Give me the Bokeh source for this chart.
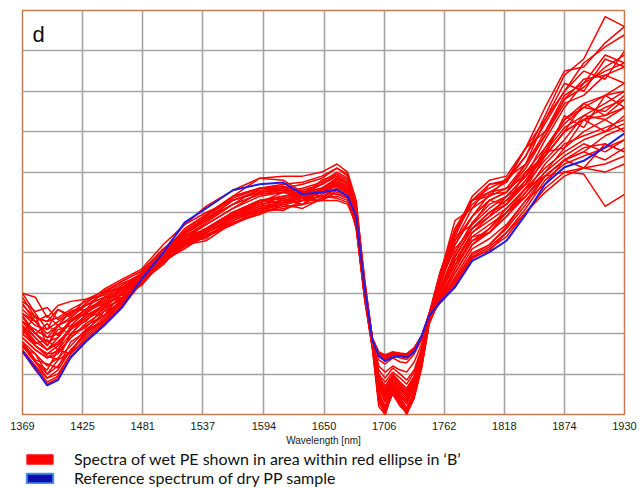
from bokeh.plotting import figure
from bokeh.layouts import column
from bokeh.models import FixedTicker, Grid, Legend, LegendItem, Label
from bokeh.embed import file_html
from bokeh.resources import INLINE

# ---------------- data ----------------
wavelength = [1369, 1381, 1392, 1402, 1414, 1428, 1445, 1462, 1480, 1500, 1520, 1540, 1565, 1590,
              1612, 1630, 1648, 1662, 1672, 1680, 1688, 1695, 1701, 1707, 1714, 1721, 1727, 1734,
              1741, 1748, 1758, 1772, 1788, 1804, 1820, 1838, 1856, 1874, 1892, 1912, 1930]

tick_values = [1369, 1425, 1481, 1537, 1594, 1650, 1706, 1762, 1818, 1874, 1930]
tick_labels = ["1369", "1425", "1481", "1537", "1594", "1650", "1706", "1762", "1818", "1874", "1930"]

reference_dry_pp = [1.56, 1.14, 0.72, 0.85, 1.42, 1.80, 2.20, 2.66, 3.35, 4.00, 4.75, 5.10, 5.55, 5.70,
                    5.74, 5.45, 5.50, 5.57, 5.40, 4.90, 3.10, 1.85, 1.45, 1.32, 1.42, 1.44, 1.41, 1.55,
                    1.95, 2.45, 2.78, 3.15, 3.80, 4.02, 4.30, 4.95, 5.70, 6.12, 6.28, 6.62, 6.96]

wet_01 = [2.9, 2.4, 2.3, 2.6, 2.45, 2.85, 2.95, 3.25, 3.45, 3.9, 4.3, 4.5, 4.8, 5.1, 5.2, 5.3, 5.5, 5.8, 5.6, 4.8, 3.0, 1.8, 0.5, 0.0, 0.6, 0.35, 0.0, 0.5, 1.3, 2.35, 3.4, 4.4, 5.3, 5.6, 5.8, 6.4, 7.4, 8.4, 8.8, 9.85, 9.6]
wet_02 = [2.6, 2.3, 2.0, 2.2, 2.4, 2.7, 2.9, 3.1, 3.4, 3.85, 4.2, 4.45, 4.75, 5.0, 5.15, 5.2, 5.45, 5.7, 5.55, 4.75, 3.0, 1.75, 0.7, 0.35, 0.75, 0.5, 0.3, 0.7, 1.4, 2.4, 3.5, 4.5, 5.3, 5.4, 5.85, 6.2, 7.3, 8.0, 8.7, 9.1, 9.4]
wet_03 = [2.2, 1.9, 1.6, 1.9, 2.3, 2.6, 2.85, 3.15, 3.45, 3.95, 4.35, 4.7, 5.1, 5.4, 5.5, 5.6, 5.75, 6.0, 5.85, 5.1, 3.1, 1.75, 0.3, 0.05, 0.55, 0.25, 0.05, 0.45, 1.25, 2.3, 3.2, 4.2, 4.9, 5.3, 5.5, 6.1, 6.9, 7.8, 8.1, 8.6, 8.9]
wet_04 = [2.0, 1.7, 1.5, 1.7, 2.1, 2.4, 2.7, 3.0, 3.4, 3.9, 4.3, 4.6, 5.0, 5.3, 5.4, 5.5, 5.7, 5.95, 5.8, 5.0, 3.1, 1.8, 0.95, 0.7, 1.0, 0.8, 0.65, 0.95, 1.55, 2.4, 3.1, 4.0, 4.75, 5.2, 5.4, 5.9, 6.8, 7.6, 8.2, 8.5, 8.7]
wet_05 = [1.8, 1.35, 1.25, 1.15, 1.8, 2.05, 2.55, 2.75, 3.3, 3.9, 4.5, 4.9, 5.35, 5.6, 5.65, 5.5, 5.5, 5.65, 5.45, 4.95, 3.1, 1.85, 1.5, 1.38, 1.5, 1.45, 1.42, 1.6, 1.9, 2.45, 2.9, 3.5, 4.2, 4.6, 5.0, 5.6, 6.4, 7.0, 7.3, 7.6, 7.8]
wet_06 = [1.6, 1.2, 0.8, 0.95, 1.5, 1.85, 2.25, 2.7, 3.35, 4.0, 4.6, 4.95, 5.4, 5.6, 5.6, 5.45, 5.4, 5.35, 5.25, 4.8, 3.1, 1.85, 1.48, 1.36, 1.47, 1.47, 1.44, 1.58, 1.95, 2.45, 2.8, 3.2, 3.9, 4.15, 4.5, 5.1, 5.8, 6.2, 6.4, 6.6, 6.8]
wet_07 = [3.0, 2.9, 2.4, 2.7, 2.8, 2.85, 3.05, 3.3, 3.55, 4.1, 4.5, 4.85, 5.2, 5.6, 5.7, 5.75, 5.9, 6.1, 5.95, 5.2, 3.3, 1.9, 1.1, 0.9, 1.15, 1.0, 0.85, 1.1, 1.65, 2.5, 3.3, 4.1, 4.6, 5.0, 5.3, 5.7, 6.6, 7.2, 7.6, 7.5, 7.9]
wet_08 = [2.3, 2.0, 1.8, 1.9, 2.3, 2.5, 2.8, 3.1, 3.4, 3.8, 4.2, 4.4, 4.7, 5.0, 5.1, 5.2, 5.3, 5.5, 5.35, 4.6, 2.9, 1.7, 0.8, 0.5, 0.85, 0.65, 0.45, 0.8, 1.4, 2.3, 3.0, 3.7, 4.3, 4.6, 5.1, 5.6, 5.9, 6.0, 5.95, 5.15, 5.45]
wet_09 = [2.1, 1.7, 1.45, 1.35, 2.0, 2.15, 2.65, 2.85, 3.3, 3.75, 4.15, 4.4, 4.8, 5.05, 5.2, 5.3, 5.4, 5.6, 5.4, 4.6, 2.8, 1.65, 0.2, 0.0, 0.6, 0.3, 0.0, 0.4, 1.15, 2.25, 2.9, 3.6, 4.4, 4.7, 5.0, 5.5, 6.2, 6.7, 6.9, 7.1, 7.3]
wet_10 = [2.5, 2.2, 2.1, 2.3, 2.5, 2.7, 2.9, 3.2, 3.5, 4.0, 4.4, 4.7, 5.1, 5.5, 5.6, 5.7, 5.85, 6.1, 5.9, 5.15, 3.3, 1.9, 1.35, 1.25, 1.4, 1.3, 1.28, 1.5, 1.85, 2.5, 3.5, 4.6, 5.3, 5.7, 5.75, 6.6, 7.0, 7.9, 8.2, 8.9, 8.7]
wet_11 = [1.9, 1.6, 1.4, 1.6, 2.0, 2.35, 2.6, 2.9, 3.3, 3.8, 4.25, 4.55, 4.95, 5.2, 5.3, 5.4, 5.55, 5.75, 5.6, 4.85, 3.0, 1.75, 0.85, 0.55, 0.9, 0.7, 0.5, 0.85, 1.45, 2.35, 3.0, 3.9, 4.6, 5.0, 5.2, 5.8, 6.5, 7.3, 7.6, 7.9, 8.2]
wet_12 = [2.0, 1.7, 1.5, 1.55, 1.9, 2.2, 2.45, 2.8, 3.25, 3.85, 4.4, 4.75, 5.2, 5.45, 5.5, 5.35, 5.3, 5.3, 5.2, 4.7, 3.0, 1.8, 1.2, 1.05, 1.2, 1.1, 1.05, 1.3, 1.75, 2.4, 2.85, 3.4, 4.1, 4.35, 4.7, 5.3, 5.9, 6.3, 6.5, 6.3, 6.6]
wet_13 = [2.7, 2.4, 2.3, 2.4, 2.6, 2.8, 3.0, 3.3, 3.55, 4.05, 4.5, 4.9, 5.4, 5.85, 5.9, 5.9, 6.0, 6.2, 6.0, 5.3, 3.2, 1.8, 0.35, 0.1, 0.5, 0.2, 0.05, 0.5, 1.2, 2.3, 3.4, 4.5, 5.4, 5.8, 5.9, 6.6, 7.6, 8.5, 8.6, 9.2, 9.6]
wet_14 = [1.7, 1.3, 0.9, 1.1, 1.6, 2.0, 2.4, 2.8, 3.35, 4.05, 4.7, 5.15, 5.55, 5.85, 5.8, 5.5, 5.6, 5.7, 5.55, 5.05, 3.2, 1.9, 1.52, 1.45, 1.55, 1.5, 1.5, 1.65, 1.95, 2.5, 2.8, 3.3, 3.95, 4.2, 4.6, 5.2, 5.9, 6.3, 6.5, 6.9, 7.1]
wet_15 = [2.4, 2.0, 1.7, 2.1, 2.2, 2.55, 2.75, 3.05, 3.4, 3.8, 4.3, 4.5, 4.85, 5.15, 5.25, 5.35, 5.5, 5.7, 5.5, 4.7, 2.9, 1.7, 0.6, 0.3, 0.7, 0.45, 0.25, 0.65, 1.35, 2.3, 3.1, 4.0, 4.7, 5.1, 5.4, 5.9, 6.4, 7.0, 7.7, 7.4, 7.8]
wet_16 = [2.2, 1.8, 1.6, 1.75, 2.15, 2.45, 2.7, 3.0, 3.35, 3.9, 4.3, 4.6, 5.0, 5.3, 5.35, 5.45, 5.6, 5.85, 5.7, 4.9, 3.0, 1.75, 0.45, 0.2, 0.65, 0.4, 0.15, 0.55, 1.3, 2.35, 3.2, 4.3, 5.1, 5.4, 5.6, 6.2, 7.0, 7.8, 8.3, 8.4, 8.6]
wet_17 = [1.55, 1.1, 0.75, 0.9, 1.4, 1.8, 2.2, 2.65, 3.3, 3.95, 4.5, 4.85, 5.3, 5.5, 5.55, 5.4, 5.35, 5.4, 5.3, 4.85, 3.1, 1.85, 1.5, 1.4, 1.52, 1.5, 1.47, 1.62, 1.92, 2.4, 2.75, 3.15, 3.85, 4.1, 4.4, 5.0, 5.6, 6.0, 6.1, 6.2, 6.4]
wet_18 = [2.5, 2.3, 1.9, 2.0, 2.3, 2.6, 2.8, 3.1, 3.45, 3.9, 4.25, 4.5, 4.9, 5.2, 5.3, 5.4, 5.6, 5.8, 5.65, 4.85, 3.0, 1.75, 0.7, 0.45, 0.8, 0.55, 0.4, 0.75, 1.4, 2.4, 3.3, 4.2, 4.9, 5.3, 5.5, 6.0, 6.6, 7.3, 7.7, 7.9, 8.0]
wet_19 = [2.8, 2.55, 2.65, 2.35, 2.55, 2.7, 3.0, 3.15, 3.5, 3.95, 4.35, 4.6, 4.95, 5.25, 5.35, 5.45, 5.7, 5.9, 5.75, 5.0, 3.1, 1.8, 0.55, 0.15, 0.65, 0.35, 0.1, 0.55, 1.3, 2.3, 2.95, 3.8, 4.5, 4.8, 5.1, 5.6, 6.1, 6.5, 6.8, 7.0, 7.2]
wet_20 = [1.8, 1.5, 1.2, 1.4, 1.7, 2.1, 2.45, 2.85, 3.3, 3.9, 4.45, 4.8, 5.2, 5.45, 5.55, 5.45, 5.55, 5.7, 5.5, 4.95, 3.1, 1.85, 1.45, 1.32, 1.48, 1.4, 1.36, 1.55, 1.9, 2.5, 3.0, 3.7, 4.5, 4.9, 5.2, 5.7, 6.3, 6.8, 7.4, 7.3, 7.6]
wet_21 = [2.3, 1.9, 1.6, 1.8, 2.1, 2.4, 2.65, 3.0, 3.35, 3.85, 4.2, 4.5, 4.85, 5.1, 5.25, 5.3, 5.5, 5.7, 5.5, 4.75, 2.95, 1.7, 1.0, 0.8, 1.05, 0.9, 0.75, 1.05, 1.6, 2.45, 3.3, 4.3, 4.9, 5.45, 5.5, 6.2, 6.9, 7.7, 7.9, 8.4, 8.2]
wet_22 = [1.9, 1.6, 1.4, 1.5, 1.9, 2.25, 2.55, 2.9, 3.3, 3.8, 4.2, 4.5, 4.9, 5.15, 5.25, 5.35, 5.5, 5.7, 5.5, 4.7, 2.85, 1.65, 0.3, 0.05, 0.55, 0.3, 0.05, 0.45, 1.2, 2.25, 2.85, 3.5, 4.2, 4.5, 4.9, 5.4, 5.9, 6.3, 6.6, 6.7, 6.5]
wet_23 = [3.0, 2.5, 2.1, 2.6, 2.4, 2.75, 3.1, 3.35, 3.6, 4.2, 4.7, 5.0, 5.3, 5.55, 5.6, 5.55, 5.7, 5.9, 5.7, 5.0, 3.1, 1.8, 0.95, 0.65, 0.95, 0.75, 0.6, 0.9, 1.5, 2.35, 2.9, 3.6, 4.3, 4.5, 4.9, 5.5, 6.0, 6.4, 6.7, 6.5, 6.8]
wet_24 = [1.6, 1.2, 0.9, 1.0, 1.5, 1.9, 2.3, 2.7, 3.25, 3.85, 4.3, 4.6, 5.0, 5.3, 5.4, 5.45, 5.6, 5.85, 5.7, 4.9, 3.0, 1.7, 0.4, 0.15, 0.6, 0.35, 0.1, 0.5, 1.25, 2.3, 3.1, 3.9, 4.6, 5.0, 5.3, 5.8, 6.4, 7.0, 7.3, 7.4, 7.6]
wet_25 = [2.3, 2.1, 1.9, 2.2, 2.35, 2.6, 2.8, 3.1, 3.45, 3.9, 4.25, 4.55, 4.95, 5.2, 5.3, 5.35, 5.55, 5.75, 5.55, 4.8, 2.95, 1.75, 0.75, 0.5, 0.85, 0.6, 0.45, 0.8, 1.45, 2.5, 3.5, 4.6, 5.3, 5.5, 5.6, 5.9, 6.5, 7.1, 7.4, 7.7, 8.0]
wet_26 = [1.7, 1.3, 1.0, 1.2, 1.6, 1.95, 2.35, 2.75, 3.3, 3.95, 4.55, 4.95, 5.4, 5.6, 5.65, 5.5, 5.5, 5.45, 5.35, 4.9, 3.15, 1.9, 1.55, 1.48, 1.55, 1.52, 1.5, 1.65, 1.95, 2.5, 2.85, 3.25, 3.9, 4.05, 4.5, 5.0, 5.5, 5.9, 6.1, 6.0, 6.2]
wet_27 = [2.0, 2.45, 1.7, 2.2, 1.95, 2.5, 2.45, 3.0, 3.3, 3.7, 4.3, 4.35, 4.9, 5.0, 5.35, 5.2, 5.6, 5.65, 5.5, 4.75, 2.95, 1.75, 0.9, 0.6, 0.95, 0.75, 0.55, 0.9, 1.5, 2.4, 3.2, 4.4, 4.7, 5.3, 5.2, 6.0, 6.4, 7.4, 7.1, 7.9, 7.6]
wet_28 = [1.75, 1.3, 1.1, 1.6, 1.5, 2.1, 2.3, 2.9, 3.2, 3.8, 4.1, 4.45, 4.7, 5.1, 5.05, 5.3, 5.3, 5.55, 5.4, 4.65, 2.85, 1.7, 0.4, 0.1, 0.6, 0.3, 0.05, 0.5, 1.2, 2.3, 3.0, 3.9, 4.6, 4.9, 5.4, 5.7, 6.5, 6.6, 7.3, 7.0, 7.4]
wet_29 = [2.75, 2.3, 2.45, 2.2, 2.55, 2.6, 3.05, 3.1, 3.5, 3.85, 4.45, 4.55, 5.0, 5.25, 5.5, 5.4, 5.8, 5.95, 5.8, 5.05, 3.15, 1.8, 0.65, 0.4, 0.75, 0.5, 0.35, 0.7, 1.4, 2.45, 3.45, 4.8, 5.1, 5.7, 5.8, 6.6, 7.3, 8.2, 8.0, 8.8, 8.6]
wet_30 = [1.65, 1.5, 1.0, 1.35, 1.55, 2.05, 2.3, 2.8, 3.3, 3.9, 4.5, 4.8, 5.3, 5.5, 5.6, 5.4, 5.5, 5.55, 5.4, 4.9, 3.1, 1.85, 1.5, 1.42, 1.53, 1.48, 1.46, 1.62, 1.95, 2.45, 2.8, 3.35, 4.0, 4.2, 4.65, 5.3, 5.7, 6.3, 6.1, 6.7, 6.5]
wet_31 = [2.45, 2.0, 2.25, 1.95, 2.35, 2.5, 2.9, 2.95, 3.4, 3.75, 4.2, 4.3, 4.75, 4.95, 5.2, 5.1, 5.35, 5.6, 5.4, 4.65, 2.9, 1.7, 0.75, 0.55, 0.85, 0.65, 0.5, 0.85, 1.45, 2.35, 3.05, 3.8, 4.4, 4.5, 5.0, 5.4, 6.0, 6.6, 7.0, 7.3, 7.0]
wet_32 = [2.15, 1.75, 1.85, 1.6, 2.2, 2.3, 2.75, 2.9, 3.35, 3.9, 4.25, 4.6, 4.9, 5.3, 5.25, 5.5, 5.55, 5.85, 5.7, 4.9, 3.0, 1.75, 0.5, 0.2, 0.65, 0.4, 0.15, 0.55, 1.3, 2.35, 3.35, 4.5, 5.2, 5.5, 5.75, 6.4, 7.2, 8.0, 8.5, 8.3, 9.0]

wet_spectra = [wet_01, wet_02, wet_03, wet_04, wet_05, wet_06, wet_07, wet_08, wet_09, wet_10, wet_11,
               wet_12, wet_13, wet_14, wet_15, wet_16, wet_17, wet_18, wet_19, wet_20, wet_21, wet_22,
               wet_23, wet_24, wet_25, wet_26, wet_27, wet_28, wet_29, wet_30, wet_31, wet_32]

label_wet = "Spectra of wet PE shown in area within red ellipse in \u2018B\u2019"
label_ref = "Reference spectrum of dry PP sample"

# ---------------- main figure ----------------
FRAME = "#C47A54"
GRID = "#A3A3A3"

p = figure(width=640, height=448, x_range=(1369, 1930), y_range=(0, 10),
           output_backend="svg", toolbar_location=None, y_axis_location=None,
           min_border_left=22, min_border_right=16, min_border_top=10, min_border_bottom=33)
p.background_fill_color = "white"
p.border_fill_color = "white"
p.outline_line_color = FRAME
p.outline_line_width = 1.5

xa = p.xaxis[0]
xa.ticker = FixedTicker(ticks=tick_values)
xa.major_label_overrides = {v: s for v, s in zip(tick_values, tick_labels)}
xa.axis_line_color = None
xa.major_tick_line_color = None
xa.minor_tick_line_color = None
xa.major_label_standoff = 1
xa.major_label_text_font = "Liberation Sans"
xa.major_label_text_font_size = "11px"
xa.major_label_text_color = "#1a1a1a"
xa.axis_label = "Wavelength [nm]"
xa.axis_label_text_font = "Liberation Sans"
xa.axis_label_text_font_style = "normal"
xa.axis_label_text_font_size = "10px"
xa.axis_label_text_color = "#1a1a1a"
xa.axis_label_standoff = 2

p.xgrid.grid_line_color = GRID
p.xgrid.grid_line_width = 1.6
p.add_layout(Grid(dimension=1, ticker=FixedTicker(ticks=list(range(0, 11))),
                  grid_line_color=GRID, grid_line_width=1.6))

p.multi_line(xs=[wavelength] * len(wet_spectra), ys=wet_spectra,
             line_color="#FF0000", line_width=1.5)
p.line(wavelength, reference_dry_pp, line_color="#1E1EE6", line_width=2)

p.add_layout(Label(x=1369, y=10, x_offset=10, y_offset=-24, text="d",
                   text_font="Liberation Sans", text_font_size="22px",
                   text_color="#111111", text_baseline="alphabetic"))

# ---------------- legend strip ----------------
lg = figure(width=640, height=40, x_range=(0, 1), y_range=(0, 1),
            output_backend="svg", toolbar_location=None,
            x_axis_location=None, y_axis_location=None,
            min_border_left=22, min_border_right=16, min_border_top=0, min_border_bottom=0)
lg.outline_line_color = None
lg.grid.visible = False
lg.background_fill_color = "white"
lg.border_fill_color = "white"

# legend swatch glyphs (kept outside the visible range)
r_leg = lg.quad(left=[2], right=[3], top=[3], bottom=[2], fill_color="#FF0000",
                line_color="#FF2A2A", line_width=1)
b_leg = lg.quad(left=[2], right=[3], top=[3], bottom=[2], fill_color="#0C0CB0",
                line_color="#3C8FE4", line_width=2)
legend = Legend(items=[LegendItem(label=label_wet, renderers=[r_leg]),
                       LegendItem(label=label_ref, renderers=[b_leg])],
                location="top_left", orientation="vertical",
                glyph_width=33, glyph_height=12, label_height=14,
                label_standoff=18, spacing=0, padding=0, margin=1,
                border_line_color=None, background_fill_alpha=0,
                label_text_font="Lato", label_text_font_size="16px",
                label_text_color="#111111")
lg.add_layout(legend)

layout = column(p, lg, spacing=0)
open("out.html", "w").write(file_html(layout, INLINE))
